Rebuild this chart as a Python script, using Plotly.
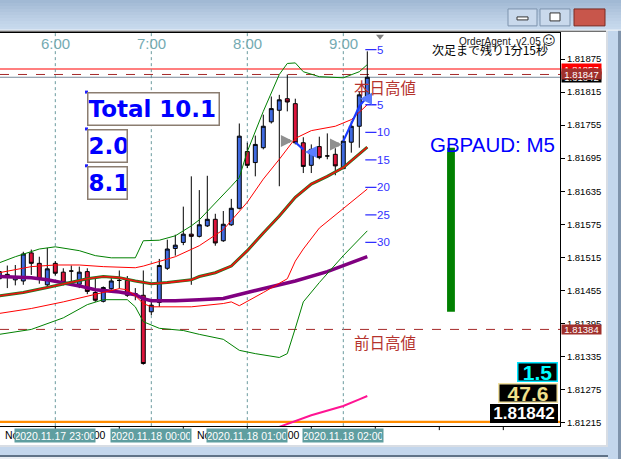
import plotly.graph_objects as go

W, H = 621, 461
PL, PR, PT, PB = 0, 560, 33, 428   # plot area in pixels

def fx(px):
    return px / W

def fy(py):
    return 1 - py / H

# ---------------- data ----------------
candle_idx = list(range(-1, 46))   # 5-minute bars, index 0 = 5:30
open_ = [1.81476, 1.81484, 1.81474, 1.81472, 1.81523, 1.81504, 1.81465, 1.81504, 1.81488, 1.81490,
         1.81466, 1.81489, 1.81451, 1.81435, 1.81458, 1.81473, 1.81473, 1.81449, 1.81446, 1.81416,
         1.81433, 1.81495, 1.81531, 1.81542, 1.81557, 1.81553, 1.81572, 1.81584, 1.81545, 1.81574,
         1.81604, 1.81707, 1.81687, 1.81714, 1.81761, 1.81782, 1.81803, 1.81794, 1.81723, 1.81682,
         1.81716, 1.81699, 1.81702, 1.81676, 1.81724, 1.81753, 1.81807]
high_ = [1.81498, 1.81500, 1.81501, 1.81525, 1.81529, 1.81516, 1.81532, 1.81508, 1.81495, 1.81500,
         1.81498, 1.81495, 1.81477, 1.81462, 1.81477, 1.81491, 1.81481, 1.81459, 1.81491, 1.81434,
         1.81512, 1.81547, 1.81556, 1.81607, 1.81662, 1.81637, 1.81663, 1.81594, 1.81599, 1.81621,
         1.81758, 1.81723, 1.81736, 1.81774, 1.81807, 1.81810, 1.81847, 1.81803, 1.81733, 1.81720,
         1.81734, 1.81740, 1.81713, 1.81736, 1.81762, 1.81816, 1.81889]
low_ = [1.81469, 1.81459, 1.81464, 1.81465, 1.81483, 1.81467, 1.81458, 1.81482, 1.81464, 1.81465,
        1.81459, 1.81448, 1.81434, 1.81433, 1.81456, 1.81458, 1.81443, 1.81437, 1.81320, 1.81410,
        1.81425, 1.81492, 1.81518, 1.81537, 1.81465, 1.81551, 1.81570, 1.81536, 1.81543, 1.81572,
        1.81602, 1.81677, 1.81662, 1.81711, 1.81758, 1.81644, 1.81780, 1.81720, 1.81668, 1.81668,
        1.81693, 1.81693, 1.81664, 1.81675, 1.81705, 1.81714, 1.81807]
close_ = [1.81489, 1.81481, 1.81480, 1.81521, 1.81504, 1.81476, 1.81494, 1.81486, 1.81469, 1.81490,
          1.81488, 1.81453, 1.81437, 1.81460, 1.81472, 1.81473, 1.81446, 1.81449, 1.81322, 1.81428,
          1.81500, 1.81530, 1.81537, 1.81557, 1.81553, 1.81574, 1.81584, 1.81541, 1.81575, 1.81604,
          1.81735, 1.81682, 1.81720, 1.81753, 1.81785, 1.81801, 1.81797, 1.81723, 1.81680, 1.81711,
          1.81696, 1.81699, 1.81681, 1.81726, 1.81753, 1.81810, 1.81842]

# Bollinger upper / lower (green)
bb_up_x = [-1, 1, 4, 6, 9, 11, 13, 16, 17, 19, 21, 23, 24, 26, 28, 29, 30, 32, 34, 35, 36, 37, 39, 42, 44, 45]
bb_up_y = [1.81505, 1.81516, 1.81530, 1.81534, 1.81527, 1.81518, 1.81514, 1.81514, 1.81545, 1.81546,
           1.81554, 1.81572, 1.81583, 1.81613, 1.81644, 1.81660, 1.81707, 1.81780, 1.81847, 1.81867,
           1.81868, 1.81852, 1.81843, 1.81841, 1.81852, 1.81865]
bb_lo_x = [-1, 3, 7, 10, 12, 15, 16, 17, 19, 22, 24, 27, 29, 31, 34, 35, 36, 37, 39, 42, 45]
bb_lo_y = [1.81375, 1.81384, 1.81405, 1.81429, 1.81438, 1.81438, 1.81425, 1.81398, 1.81386, 1.81382,
           1.81375, 1.81366, 1.81346, 1.81340, 1.81333, 1.81340, 1.81386, 1.81434, 1.81469, 1.81518,
           1.81563]
# inner bands (red thin)
in_up_x = [-1, 3, 6, 9, 12, 16, 17, 19, 21, 24, 27, 30, 32, 34, 36, 38, 41, 43, 45]
in_up_y = [1.81487, 1.81498, 1.81501, 1.81501, 1.81498, 1.81496, 1.81499, 1.81507, 1.81516, 1.81536,
           1.81565, 1.81615, 1.81657, 1.81693, 1.81731, 1.81745, 1.81753, 1.81765, 1.81792]
in_lo_x = [-1, 3, 7, 11, 14, 15, 16, 17, 18, 23, 27, 28, 29, 32, 35, 36, 37, 39, 42, 45]
in_lo_y = [1.81413, 1.81422, 1.81434, 1.81447, 1.81458, 1.81456, 1.81445, 1.81431, 1.81425, 1.81425,
           1.81431, 1.81434, 1.81427, 1.81451, 1.81476, 1.81508, 1.81530, 1.81568, 1.81603, 1.81639]
# middle moving average (red over green)
mid_x = [-1, 2, 5, 8, 10, 12, 14, 16, 18, 20, 23, 24, 26, 28, 30, 32, 34, 36, 38, 40, 42, 45]
mid_y = [1.81445, 1.81451, 1.81460, 1.81469, 1.81476, 1.81480, 1.81478, 1.81472, 1.81467, 1.81469,
         1.81474, 1.81480, 1.81487, 1.81499, 1.81527, 1.81559, 1.81590, 1.81624, 1.81648, 1.81662,
         1.81678, 1.81715]
# slow moving average (purple)
ma_slow_x = [-1, 3, 5, 7, 9, 11, 14, 16, 17, 18, 21, 24, 27, 30, 32, 36, 40, 45]
ma_slow_y = [1.81480, 1.81478, 1.81474, 1.81469, 1.81463, 1.81456, 1.81452, 1.81447, 1.81440, 1.81436,
             1.81436, 1.81438, 1.81440, 1.81451, 1.81458, 1.81472, 1.81489, 1.81516]
# long moving average (pink)
ma_long_x = [33, 34, 38, 42, 44, 45]
ma_long_y = [1.81199, 1.81207, 1.81228, 1.81245, 1.81257, 1.81263]
# blue swing line
swing1_x = [36, 37]
swing1_y = [1.81724, 1.81711]
swing2_x = [42, 43, 44, 45]
swing2_y = [1.81726, 1.81758, 1.81789, 1.81807]
# trade arrows (tip positions)
arrow_r_x = [35.7, 41.84]
arrow_r_y = [1.81726, 1.81720]
arrow_l_x = [37.2, 44.09]
arrow_l_y = [1.81706, 1.81803]

# horizontal levels
today_high = 1.81857
level_brown = 1.81847
bid = 1.81842
prev_high = 1.81384
orange_level = 1.81216

# pip scale from bid
pip_labels = ["5", "5", "10", "15", "20", "25", "30"]
pip_prices = [1.81892, 1.81792, 1.81742, 1.81692, 1.81642, 1.81592, 1.81542]

# green strength bar
strength_x = 55.46
strength_lo = 1.81416
strength_hi = 1.81714

# axes
price_ticks = [1.81875, 1.81815, 1.81755, 1.81695, 1.81635, 1.81575, 1.81515, 1.81455, 1.81395,
               1.81335, 1.81275, 1.81215]
hour_idx = [6, 18, 30, 42]
hour_labels = ["6:00", "7:00", "8:00", "9:00"]
server_labels = ["2020.11.17 23:00", "2020.11.18 00:00", "2020.11.18 01:00", "2020.11.18 02:00"]
minor_ticks = [6, 14, 22, 30, 38, 46, 54, 62]

# ---------------- figure ----------------
X_RANGE = [(PL - 7.3) / 8, (PR - 7.3) / 8]
Y_RANGE = [1.812083, 1.819226]

fig = go.Figure()

def line(xs, ys, color, width):
    fig.add_trace(go.Scatter(x=xs, y=ys, mode="lines", line=dict(color=color, width=width),
                             hoverinfo="skip", showlegend=False))

line(ma_long_x, ma_long_y, "#ff1493", 2)
line(ma_slow_x, ma_slow_y, "#800080", 3.5)
line(bb_up_x, bb_up_y, "#008000", 1)
line(bb_lo_x, bb_lo_y, "#008000", 1)
line(in_up_x, in_up_y, "#ff0000", 1)
line(in_lo_x, in_lo_y, "#ff0000", 1)
line(mid_x, mid_y, "#1f7a1f", 3.0)
line(mid_x, mid_y, "#f01010", 1.6)

fig.add_trace(go.Bar(x=[strength_x], y=[strength_hi - strength_lo], base=[strength_lo], width=[0.98],
                     marker=dict(color="#008000", line=dict(width=0)), showlegend=False, hoverinfo="skip"))

fig.add_trace(go.Candlestick(
    x=candle_idx, open=open_, high=high_, low=low_, close=close_,
    increasing=dict(fillcolor="#3f6ae0", line=dict(color="#000000", width=1)),
    decreasing=dict(fillcolor="#dc143c", line=dict(color="#000000", width=1)),
    whiskerwidth=0, showlegend=False, hoverinfo="skip"))

line(swing1_x, swing1_y, "#1a3cff", 2.2)
line(swing2_x, swing2_y, "#1a3cff", 2.2)

# pip dashes
fig.add_trace(go.Scatter(x=[45.45] * len(pip_prices), y=pip_prices, mode="markers",
                         marker=dict(symbol="line-ew", size=8, line=dict(color="#2f2fff", width=1.3)),
                         showlegend=False, hoverinfo="skip"))

shapes = []

def hline(price, color, width, dash="solid"):
    shapes.append(dict(type="line", xref="paper", yref="y", x0=fx(PL), x1=fx(PR), y0=price, y1=price,
                       line=dict(color=color, width=width, dash=dash), layer="below"))

hline(today_high, "#ff0000", 1.2)
hline(level_brown, "#a52a2a", 1, "dash")
hline(bid, "#778899", 1.2)
hline(prev_high, "#a52a2a", 1, "dash")
hline(orange_level, "#ff8c00", 2.2)

for h in hour_idx:
    shapes.append(dict(type="line", xref="x", yref="paper", x0=h, x1=h, y0=fy(PB), y1=fy(PT),
                       line=dict(color="#6a9a9e", width=1, dash="3px,3px"), layer="below"))
for t in minor_ticks:
    shapes.append(dict(type="line", xref="x", yref="paper", x0=t, x1=t, y0=fy(PB), y1=fy(PB + 4),
                       line=dict(color="#000000", width=1)))

def rect(x0, y0, x1, y1, fill, line_color=None, lw=0):
    shapes.append(dict(type="rect", xref="paper", yref="paper", x0=fx(x0), x1=fx(x1), y0=fy(y1), y1=fy(y0),
                       fillcolor=fill, line=dict(color=line_color or fill, width=lw), layer="above"))

# window chrome: title bar gradient
grad = ["#a1b9d4", "#a6bdd7", "#abc1da", "#b0c5dd", "#b5c9e0", "#b9cde3", "#bdd0e6", "#c1d4e9", "#c4d7eb", "#c7d9ed"]
for k, c in enumerate(grad):
    rect(0, k * 3, W, k * 3 + 3, c)
rect(0, 30, W, 31, "#e8eef5")
rect(0, 31, 606, 32, "#404040")
# caption buttons
rect(508, 9, 537, 26, "#c9d9ec", "#7d93ad", 1)
rect(540, 9, 570, 26, "#c9d9ec", "#7d93ad", 1)
rect(574, 9, 605, 26, "#c8564b", "#7a2a22", 1)
rect(517, 17, 528, 20, "#ffffff", "#333333", 1)
rect(550, 13, 560, 21, "#ffffff", "#333333", 1)
# right frame
rect(606, 31, 608, H, "#d8dde4")
rect(608, 31, 618, H, "#c3d6ec")
rect(618, 31, 621, H, "#7f93ab")
# bottom frame
rect(0, 447, 608, 449, "#d8dde4")
rect(0, 449, 608, 457, "#c3d6ec")
rect(0, 457, 608, 459, "#5f7287")
rect(0, 459, 608, H, "#e9edf2")
# gray shift marker
shapes.append(dict(type="path", xref="paper", yref="paper",
                   path=f"M {fx(376)},{fy(35)} L {fx(384)},{fy(35)} L {fx(380)},{fy(40)} Z",
                   fillcolor="#808080", line=dict(width=0)))
# box handles
for yy in (91, 128, 165):
    rect(85, yy, 88, yy + 3, "#2020ff")

ann = []

def text(x, y, s, size, color, family="Liberation Sans", xanchor="center", yanchor="middle", xref="paper",
         yref="paper", **kw):
    ann.append(dict(x=x, y=y, xref=xref, yref=yref, text=s, showarrow=False, xanchor=xanchor,
                    yanchor=yanchor, font=dict(size=size, color=color, family=family), **kw))

# trade arrows (block arrows drawn as thick annotation arrows)
def block_arrow(x, y, color, tail_dx):
    ann.append(dict(x=x, y=y, xref="x", yref="y", text="", showarrow=True, ax=tail_dx, ay=0,
                    arrowhead=2, arrowsize=0.6, arrowwidth=4, arrowcolor=color, standoff=0))

for ax_, ay_ in zip(arrow_r_x, arrow_r_y):
    block_arrow(ax_, ay_, "#909090", -13)
for ax_, ay_ in zip(arrow_l_x, arrow_l_y):
    block_arrow(ax_, ay_, "#5b7cff", 13)

# top hour labels
for h, lab in zip(hour_idx, hour_labels):
    text(h, fy(44), lab, 15, "#74aab2", xref="x")

# bottom axis fragments then server-time boxes
text(fx(3), fy(437), "No", 10.5, "#000000", xanchor="left")
text(fx(108), fy(437), "3:00", 10.5, "#000000", xanchor="right")
text(fx(195), fy(437), "No", 10.5, "#000000", xanchor="left")
text(fx(302), fy(437), "1:00", 10.5, "#000000", xanchor="right")
for h, lab in zip(hour_idx, server_labels):
    text(h, fy(437), lab, 10.5, "#ffffff", xref="x", bgcolor="#5f9ea0", borderpad=1, width=78, height=11)

# pip scale numbers
for lab, p in zip(pip_labels, pip_prices):
    text(45.9, p, lab, 11.5, "#2f2fff", xref="x", yref="y", xanchor="left")

# price tags on the right
def tag(price, s, bg, h=10):
    text(fx(561), price, s, 9.5, "#ffffff", xanchor="left", yref="y", bgcolor=bg, width=39, height=h,
         borderpad=0)

tag(bid, "1.81842", "#000000")
tag(today_high, "1.81857", "#ff0000")
tag(level_brown, "1.81847", "#a0302c")
tag(prev_high, "1.81384", "#a0302c", 9)

# texts on chart
text(fx(352), fy(87), "本日高値", 15.5, "#b5332e", family="Noto Sans CJK JP", xanchor="left")
text(fx(352), fy(343), "前日高値", 15.5, "#b5332e", family="Noto Sans CJK JP", xanchor="left")
text(fx(492), fy(145), "GBPAUD: M5", 20.5, "#0000ff")
text(fx(543), fy(42), "OrderAgent_v2.05", 10, "#202020", xanchor="right")
text(fx(549), fy(41), "☺", 13, "#202020", family="DejaVu Sans")
text(fx(550), fy(50), "次足まで残り1分15秒", 12, "#000000", family="Noto Sans CJK JP", xanchor="right")

# boxed totals
def box(x0, y0, w, h, s):
    text(fx(x0), fy(y0), s, 23, "#0000ff", family="DejaVu Sans", xanchor="left", yanchor="top",
         width=w, height=h, align="left", bordercolor="#8b7d70", borderwidth=1.5, borderpad=0,
         bgcolor="#ffffff")

box(87, 92.5, 130, 31, "<b>Total 10.1</b>")
box(87, 129.5, 38, 31, "<b>2.0</b>")
box(87, 166.5, 38, 31, "<b>8.1</b>")

# bottom right info boxes
def info(x0, y0, x1, y1, s, color, border, size):
    text(fx((x0 + x1) / 2), fy((y0 + y1) / 2), s, size, color, family="Liberation Sans",
         width=x1 - x0 - 2, height=y1 - y0 - 2, bgcolor="#000000", bordercolor=border, borderwidth=1.5,
         borderpad=0)

info(517, 364, 557, 383, "<b>1.5</b>", "#00ffff", "#00e5ff", 21)
info(498, 385, 557, 404, "<b>47.6</b>", "#f0e08c", "#f0e0a0", 21)
info(490, 406, 557, 424, "<b>1.81842</b>", "#ffffff", "#000000", 17)

fig.update_layout(
    width=W, height=H, margin=dict(l=0, r=0, t=0, b=0), autosize=False,
    paper_bgcolor="#ffffff", plot_bgcolor="#ffffff", showlegend=False,
    xaxis=dict(domain=[fx(PL), fx(PR)], range=X_RANGE, showgrid=False, zeroline=False, showticklabels=False,
               showline=True, linecolor="#000000", linewidth=1, mirror=True, ticks="",
               rangeslider=dict(visible=False), fixedrange=True),
    yaxis=dict(domain=[fy(PB), fy(PT)], range=Y_RANGE, side="right", showgrid=False, zeroline=False,
               tickvals=price_ticks, ticktext=[f"{v:.5f}" for v in price_ticks], ticks="outside",
               ticklen=4, tickcolor="#000000", showline=True, linecolor="#000000", linewidth=1,
               tickfont=dict(family="Liberation Sans", size=9.5, color="#000000"), fixedrange=True),
    shapes=shapes, annotations=ann,
)

fig.write_html("out.html")
